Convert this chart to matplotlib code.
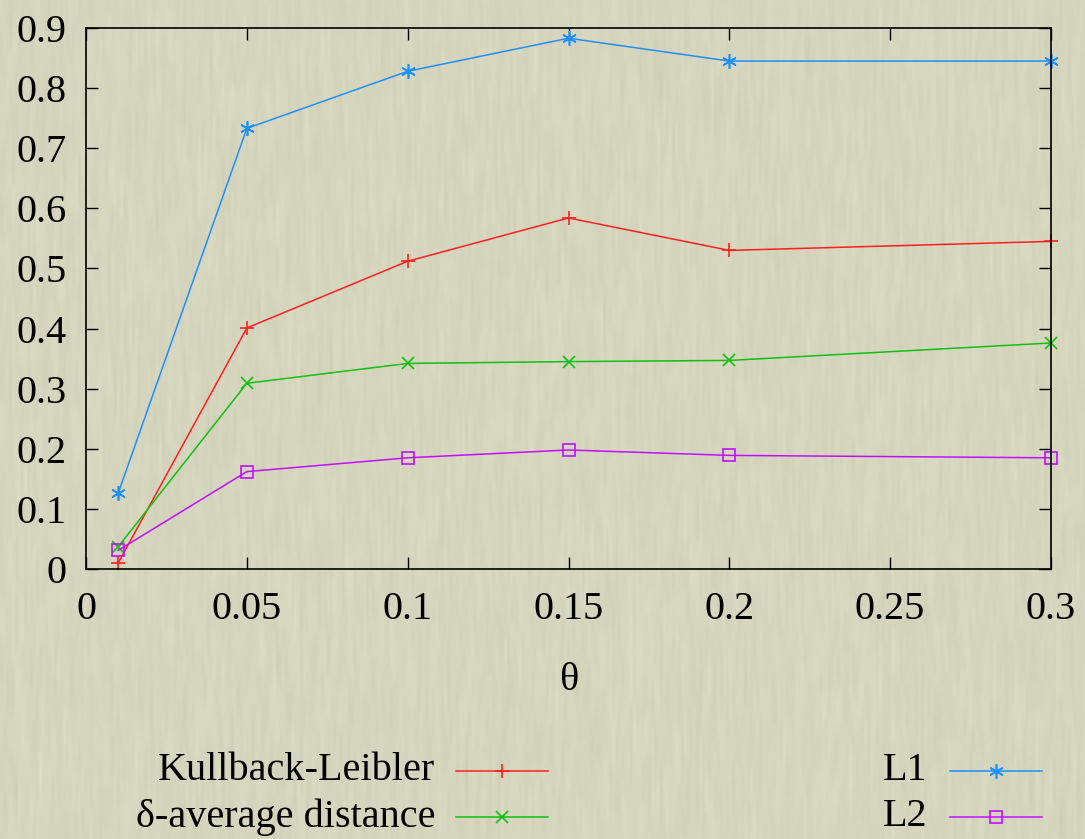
import numpy as np
import matplotlib
matplotlib.use("Agg")
import matplotlib.pyplot as plt
from matplotlib.lines import Line2D

plt.rcParams['font.family'] = ['Liberation Serif', 'DejaVu Serif']

theta = [0.01, 0.05, 0.1, 0.15, 0.2, 0.3]
kl = [0.010, 0.401, 0.512, 0.584, 0.530, 0.545]
delta_avg = [0.037, 0.309, 0.342, 0.345, 0.347, 0.376]
l1 = [0.126, 0.733, 0.828, 0.883, 0.845, 0.845]
l2 = [0.031, 0.162, 0.185, 0.198, 0.189, 0.185]

series_labels = ["Kullback-Leibler", "δ-average distance", "L1", "L2"]
series_values = [kl, delta_avg, l1, l2]
series_colors = ["#ff2020", "#10c010", "#1e90ff", "#c010ff"]
series_markers = ["+", "x", (6, 2, 0), "s"]
marker_sizes = [10, 9, 10.5, 9]

xticks = [0, 0.05, 0.1, 0.15, 0.2, 0.25, 0.3]
xtick_labels = ["0", "0.05", "0.1", "0.15", "0.2", "0.25", "0.3"]
yticks = [0, 0.1, 0.2, 0.3, 0.4, 0.5, 0.6, 0.7, 0.8, 0.9]
ytick_labels = ["0", "0.1", "0.2", "0.3", "0.4", "0.5", "0.6", "0.7", "0.8", "0.9"]

W, H = 1085, 839
bg = "#d6d5bd"
FS = 29
fig = plt.figure(figsize=(W / 100, H / 100), dpi=100, facecolor=bg)

# paper-like backdrop with soft vertical grain
rng = np.random.default_rng(7)
noise = rng.normal(0, 1, (H // 8 + 2, W // 3 + 2))
noise = np.repeat(np.repeat(noise, 8, axis=0), 3, axis=1)[:H, :W]
kv = np.ones(41) / 41
kh = np.ones(3) / 3
grain = np.apply_along_axis(lambda c: np.convolve(c, kv, mode="same"), 0, noise)
grain = np.apply_along_axis(lambda r: np.convolve(r, kh, mode="same"), 1, grain)
grain = grain / (np.abs(grain).max() + 1e-9)
base = np.array([0xd6, 0xd5, 0xbd], dtype=float) / 255
tex = base[None, None, :] + 0.04 * grain[:, :, None]
fig.figimage(np.clip(tex, 0, 1), xo=0, yo=0, zorder=-10)

ax = fig.add_axes([86 / W, 1 - 569 / H, (1051 - 86) / W, (569 - 28) / H], zorder=2)
ax.set_facecolor("none")
for lab, vals, c, m, ms in zip(series_labels, series_values, series_colors,
                               series_markers, marker_sizes):
    ax.plot(theta, vals, color=c, lw=1.1, marker=m, ms=ms,
            mfc="none" if m == "s" else c, mec=c, mew=1.2, clip_on=False)

ax.set_xlim(0, 0.3)
ax.set_ylim(0, 0.9)
ax.set_xticks(xticks)
ax.set_xticklabels(xtick_labels)
ax.set_yticks(yticks)
ax.set_yticklabels(ytick_labels)
ax.tick_params(direction="in", length=8.5, width=1.0, top=True, right=True,
               labelsize=FS, colors="black")
ax.tick_params(axis="x", pad=16)
ax.tick_params(axis="y", pad=14)
for s in ax.spines.values():
    s.set_linewidth(1.2)
    s.set_color("black")
ax.set_xlabel("θ", fontsize=FS, labelpad=24)

# legend laid out in two columns below the plot
def legend_entry(text_x, line_x0, line_x1, y_px, label, color, marker, ms):
    yf = 1 - y_px / H
    fig.text(text_x / W, yf, label, ha="right", va="center", fontsize=FS, zorder=3)
    fig.add_artist(Line2D([line_x0 / W, line_x1 / W], [yf, yf], color=color,
                          lw=1.1, transform=fig.transFigure, zorder=3))
    fig.add_artist(Line2D([(line_x0 + line_x1) / 2 / W], [yf], color=color,
                          marker=marker, ms=ms, mfc="none" if marker == "s" else color,
                          mec=color, mew=1.2, transform=fig.transFigure, zorder=3))

legend_entry(435, 456, 548, 771, series_labels[0], series_colors[0], series_markers[0], marker_sizes[0])
legend_entry(435, 456, 548, 817, series_labels[1], series_colors[1], series_markers[1], marker_sizes[1])
legend_entry(927, 950, 1042, 771, series_labels[2], series_colors[2], series_markers[2], marker_sizes[2])
legend_entry(927, 950, 1042, 817, series_labels[3], series_colors[3], series_markers[3], marker_sizes[3])

fig.savefig("out.png", dpi=100, facecolor=bg)
